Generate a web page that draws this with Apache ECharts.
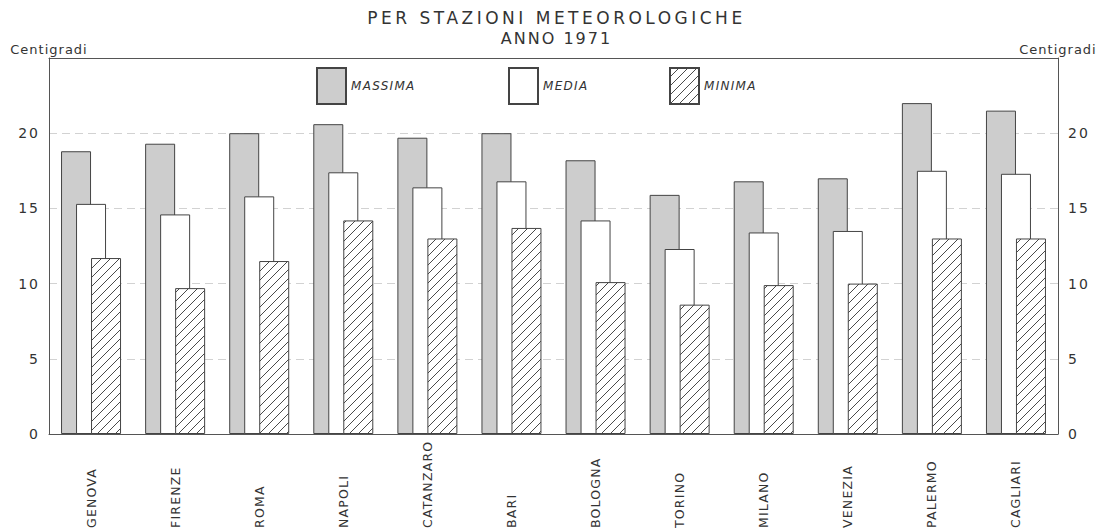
<!DOCTYPE html>
<html>
<head>
<meta charset="utf-8">
<script src="https://cdn.jsdelivr.net/npm/echarts@6/dist/echarts.min.js"></script>
<style>
html, body { margin: 0; padding: 0; background: #ffffff; }
#chart { width: 1113px; height: 530px; }
#chart text[style*="17px"] { letter-spacing: 3.5px; }
#chart text[style*="16px"] { letter-spacing: 2px; }
#chart text[style*="14px"] { letter-spacing: 2px; }
#chart text[style*="13px"] { letter-spacing: 1px; }
#chart text[style*="12.5px"] { letter-spacing: 1.2px; }
#chart text[style*="italic"] { letter-spacing: 1.3px; }
</style>
</head>
<body>
<div id="chart"></div>
<script>
// ---- data ----
const titleLine1 = 'PER STAZIONI METEOROLOGICHE';
const titleLine2 = 'ANNO 1971';
const unitLabel = 'Centigradi';
const seriesNames = ['MASSIMA', 'MEDIA', 'MINIMA'];
const categories = ['GENOVA', 'FIRENZE', 'ROMA', 'NAPOLI', 'CATANZARO', 'BARI',
                    'BOLOGNA', 'TORINO', 'MILANO', 'VENEZIA', 'PALERMO', 'CAGLIARI'];
const massima = [18.8, 19.3, 20.0, 20.6, 19.7, 20.0, 18.2, 15.9, 16.8, 17.0, 22.0, 21.5];
const media   = [15.3, 14.6, 15.8, 17.4, 16.4, 16.8, 14.2, 12.3, 13.4, 13.5, 17.5, 17.3];
const minima  = [11.7,  9.7, 11.5, 14.2, 13.0, 13.7, 10.1,  8.6,  9.9, 10.0, 13.0, 13.0];
const yMin = 0, yMax = 25, yStep = 5;

// ---- styling ----
const FONT = 'DejaVu Sans';
const TEXT = '#333333';
const LINE = '#555555';

function hatchPattern() {
  const s = 9;
  const c = document.createElement('canvas');
  c.width = s; c.height = s;
  const g = c.getContext('2d');
  g.fillStyle = '#ffffff';
  g.fillRect(0, 0, s, s);
  g.strokeStyle = '#4a4a4a';
  g.lineWidth = 1;
  g.beginPath();
  g.moveTo(-1, s + 1); g.lineTo(s + 1, -1);
  g.moveTo(-1, 1); g.lineTo(1, -1);
  g.moveTo(s - 1, s + 1); g.lineTo(s + 1, s - 1);
  g.stroke();
  return { image: c.toDataURL(), imageWidth: s, imageHeight: s, repeat: 'repeat' };
}

const barCommon = {
  type: 'bar',
  barWidth: 30,
  barGap: '-50%',
  barCategoryGap: '20%'
};

const legendCommon = {
  top: 67,
  padding: 0,
  itemWidth: 29,
  itemHeight: 36,
  itemGap: 0,
  icon: 'rect',
  selectedMode: false,
  textStyle: { fontStyle: 'italic', fontSize: 12, color: TEXT, fontFamily: FONT }
};

const chart = echarts.init(document.getElementById('chart'), null, { renderer: 'svg' });
chart.setOption({
  backgroundColor: '#ffffff',
  animation: false,
  textStyle: { fontFamily: FONT },
  title: [
    { text: titleLine1, left: 'center', top: 9, padding: 0,
      textStyle: { fontSize: 17, fontWeight: 'normal', color: TEXT, fontFamily: FONT } },
    { text: titleLine2, left: 'center', top: 30, padding: 0,
      textStyle: { fontSize: 16, fontWeight: 'normal', color: TEXT, fontFamily: FONT } }
  ],
  legend: [
    Object.assign({ data: [seriesNames[0]], left: 316 }, legendCommon),
    Object.assign({ data: [seriesNames[1]], left: 508 }, legendCommon),
    Object.assign({ data: [seriesNames[2]], left: 669 }, legendCommon)
  ],
  grid: { left: 49, right: 55, top: 58, bottom: 96, containLabel: false, outerBoundsMode: 'none' },
  xAxis: [
    {
      type: 'category', data: categories, position: 'bottom', z: 5,
      axisLine: { show: true, onZero: false, lineStyle: { color: LINE, width: 1 } },
      axisTick: { show: false },
      axisLabel: {
        interval: 0, rotate: 90, align: 'left', verticalAlign: 'middle',
        margin: 94, fontSize: 12.5, color: TEXT, fontFamily: FONT
      }
    },
    {
      type: 'category', data: categories, position: 'top', z: 5,
      axisLine: { show: true, onZero: false, lineStyle: { color: LINE, width: 1 } },
      axisTick: { show: false },
      axisLabel: { show: false }
    }
  ],
  yAxis: [
    {
      type: 'value', min: yMin, max: yMax, interval: yStep, position: 'left',
      name: unitLabel, nameLocation: 'end', nameGap: 9,
      nameTextStyle: { fontSize: 13, color: TEXT, fontFamily: FONT, align: 'center', verticalAlign: 'middle' },
      axisLine: { show: true, onZero: false, lineStyle: { color: LINE, width: 1 } },
      axisTick: { show: false },
      axisLabel: { margin: 9, fontSize: 14, color: TEXT, fontFamily: FONT,
                   formatter: v => (v === yMax ? '' : String(v)) },
      splitLine: { show: true, lineStyle: { color: '#d2d2d2', width: 1, type: [8, 5] } }
    },
    {
      type: 'value', min: yMin, max: yMax, interval: yStep, position: 'right',
      name: unitLabel, nameLocation: 'end', nameGap: 9,
      nameTextStyle: { fontSize: 13, color: TEXT, fontFamily: FONT, align: 'center', verticalAlign: 'middle' },
      axisLine: { show: true, onZero: false, lineStyle: { color: LINE, width: 1 } },
      axisTick: { show: false },
      axisLabel: { margin: 10, fontSize: 14, color: TEXT, fontFamily: FONT,
                   formatter: v => (v === yMax ? '' : String(v)) },
      splitLine: { show: false }
    }
  ],
  series: [
    Object.assign({ name: seriesNames[0], data: massima,
      itemStyle: { color: '#cdcdcd', borderColor: '#444444', borderWidth: 1 } }, barCommon),
    Object.assign({ name: seriesNames[1], data: media,
      itemStyle: { color: '#ffffff', borderColor: '#444444', borderWidth: 1 } }, barCommon),
    Object.assign({ name: seriesNames[2], data: minima,
      itemStyle: { color: hatchPattern(), borderColor: '#444444', borderWidth: 1 } }, barCommon)
  ]
});
</script>
</body>
</html>
